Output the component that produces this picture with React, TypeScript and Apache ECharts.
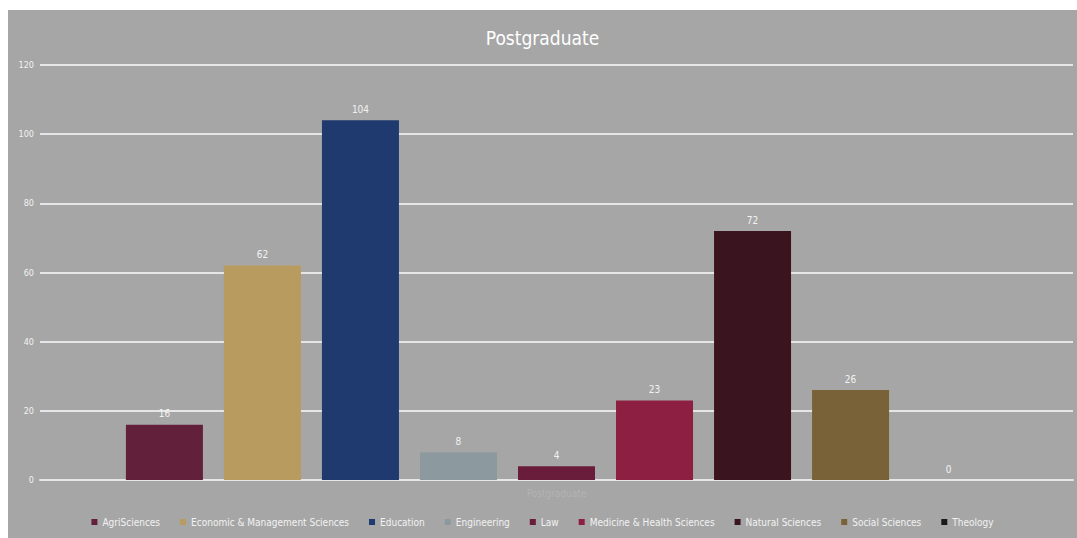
import React, { useEffect, useRef } from "react";
import * as echarts from "echarts";

const titleText = "Postgraduate";
const category = ["Postgraduate"];
const seriesNames = [
  "AgriSciences",
  "Economic & Management Sciences",
  "Education",
  "Engineering",
  "Law",
  "Medicine & Health Sciences",
  "Natural Sciences",
  "Social Sciences",
  "Theology",
];
const seriesValues = [16, 62, 104, 8, 4, 23, 72, 26, 0];
const seriesColors = [
  "#63203a",
  "#b89b5f",
  "#1f3a6e",
  "#8c9aa0",
  "#6a1c3b",
  "#8d1f42",
  "#3a141f",
  "#7a6238",
  "#1a1a1a",
];
const yTicks = { min: 0, max: 120, interval: 20 };

export default function App() {
  const ref = useRef<HTMLDivElement>(null);
  useEffect(() => {
    if (!ref.current) return;
    const chart = echarts.init(ref.current, null, { renderer: "svg" });
    const font = "'DejaVu Sans Condensed', 'DejaVu Sans', sans-serif";
    chart.setOption({
      animation: false,
      backgroundColor: "#a6a6a6",
      title: {
        text: titleText,
        left: "center",
        top: 13,
        textStyle: { color: "#ffffff", fontSize: 19, fontWeight: "normal", fontFamily: font },
      },
      legend: {
        bottom: 6,
        left: "center",
        icon: "rect",
        itemWidth: 6,
        itemHeight: 6,
        itemGap: 20,
        textStyle: { color: "#f2f2f2", fontSize: 10, fontFamily: font },
        data: seriesNames,
      },
      grid: { left: 32, right: 4, top: 55, bottom: 58 },
      xAxis: {
        type: "category",
        data: category,
        axisLine: { lineStyle: { color: "#e6e6e6", width: 2 } },
        axisTick: { show: false },
        axisLabel: { color: "#b3b3b3", fontSize: 10, fontFamily: font, margin: 8 },
      },
      yAxis: {
        type: "value",
        min: yTicks.min,
        max: yTicks.max,
        interval: yTicks.interval,
        axisLine: { show: false },
        axisTick: { show: false },
        axisLabel: { color: "#f2f2f2", fontSize: 9, fontFamily: font, margin: 6 },
        splitLine: { lineStyle: { color: "#e6e6e6", width: 2 } },
      },
      series: seriesNames.map((name, i) => ({
        name,
        type: "bar",
        data: [seriesValues[i]],
        barWidth: 77,
        barGap: "27.3%",
        itemStyle: { color: seriesColors[i] },
        label: {
          show: true,
          position: "top",
          distance: 6,
          color: "#f2f2f2",
          fontSize: 10,
          fontFamily: font,
        },
      })),
    });
    return () => chart.dispose();
  }, []);
  return (
    <div
      ref={ref}
      style={{ position: "fixed", left: 8, top: 10, width: 1069, height: 528 }}
    />
  );
}
